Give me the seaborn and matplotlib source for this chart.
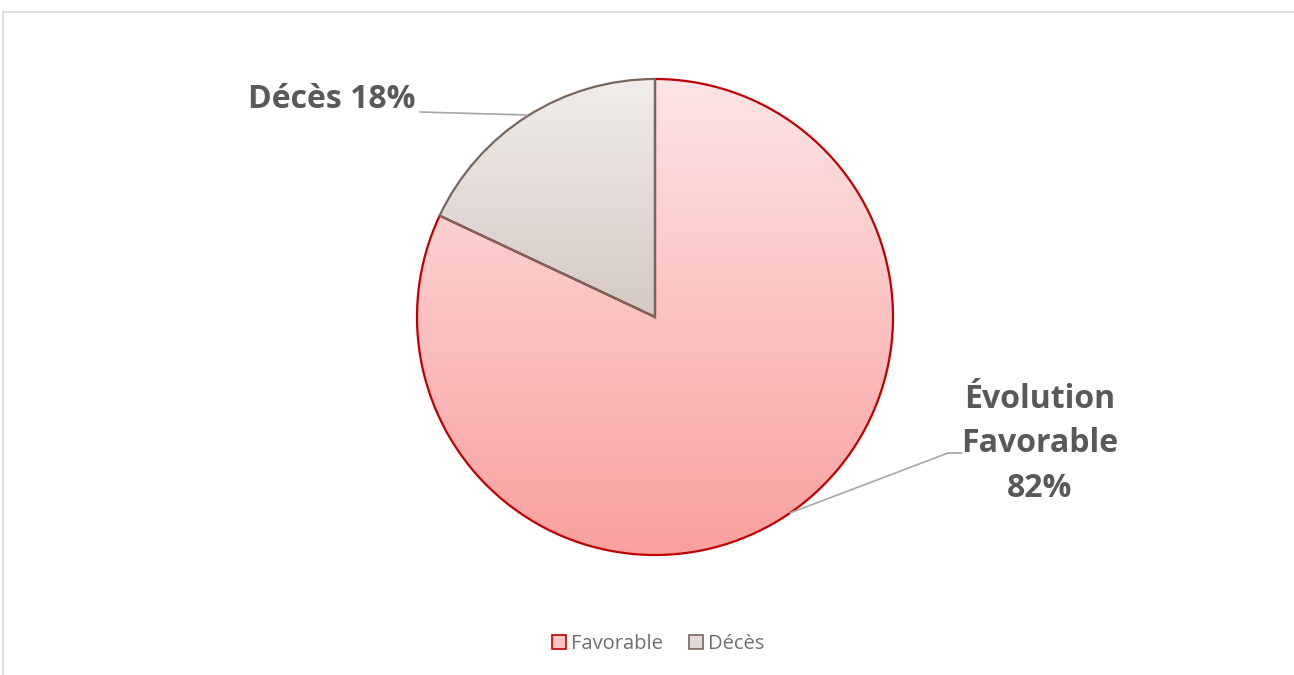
import numpy as np
import matplotlib
matplotlib.use("Agg")
import matplotlib.pyplot as plt
import seaborn as sns
from matplotlib.colors import LinearSegmentedColormap
from matplotlib.patches import Patch
from matplotlib.lines import Line2D

sns.set_theme(style="white")
plt.rcParams['font.family'] = ['Open Sans', 'DejaVu Sans']

categories = ["Favorable", "Décès"]
values = [82, 18]
slice_labels = ["Évolution\nFavorable\n82%", "Décès 18%"]

W, H = 1294, 675
fig = plt.figure(figsize=(W / 100, H / 100), dpi=100)
ax = fig.add_axes([0, 0, 1, 1])

cx, cy, r = 655, H - 317, 238

grad_colors = {
    "Favorable": ("#FDE4E5", "#F9A09E"),
    "Décès": ("#F1EDEB", "#D4C9C4"),
}
edge_colors = {"Favorable": "#C00000", "Décès": "#76665C"}

wedges, _ = ax.pie(values, startangle=90, counterclock=False, center=(cx, cy),
                   radius=r, frame=True,
                   wedgeprops=dict(linewidth=1.6))
ax.set_xlim(0, W)
ax.set_ylim(0, H)
ax.set_aspect("equal")
ax.axis("off")

# vertical gradient fill clipped to each slice
for w, cat in zip(wedges, categories):
    top, bottom = grad_colors[cat]
    w.set_facecolor("none")
    w.set_edgecolor(edge_colors[cat])
    w.set_zorder(3)
    bb = w.get_path().get_extents(w.get_patch_transform())
    cmap = LinearSegmentedColormap.from_list(cat, [bottom, top])
    grad = np.linspace(0, 1, 256).reshape(-1, 1)
    im = ax.imshow(grad, cmap=cmap, origin="lower", aspect="auto",
                   extent=(bb.x0, bb.x1, bb.y0, bb.y1), zorder=2,
                   interpolation="bilinear")
    im.set_clip_path(w)
ax.set_xlim(0, W)
ax.set_ylim(0, H)

# leader lines
ax.add_line(Line2D([420, 527], [H - 112, H - 115], color="#A6A6A6", lw=1.2, zorder=4))
ax.add_line(Line2D([790, 948, 962], [H - 513, H - 453, H - 453], color="#A6A6A6", lw=1.2, zorder=4))

ax.text(416, H - 100, slice_labels[1], ha="right", va="center", fontsize=23,
        fontweight="bold", color="#595959")
ax.text(1040, H - 444, slice_labels[0], ha="center", va="center", fontsize=23,
        fontweight="bold", color="#595959", linespacing=1.45)

# chart frame
ax.add_line(Line2D([3, W], [H - 12, H - 12], color="#D9D9D9", lw=1.2))
ax.add_line(Line2D([3, 3], [H - 12, 0], color="#D9D9D9", lw=1.2))

handles = [Patch(facecolor="#FBC4C5", edgecolor="#C00000", linewidth=1.2),
           Patch(facecolor="#E2DBD8", edgecolor="#76665C", linewidth=1.2)]
ax.legend(handles, categories, loc="center", bbox_to_anchor=(658 / W, 1 - 644 / H),
          ncol=2, frameon=False, fontsize=14.5, handlelength=0.7, handleheight=0.7,
          handletextpad=0.25, columnspacing=1.3, labelcolor="#6E6E6E")

fig.savefig("out.png", dpi=100, facecolor="white")
